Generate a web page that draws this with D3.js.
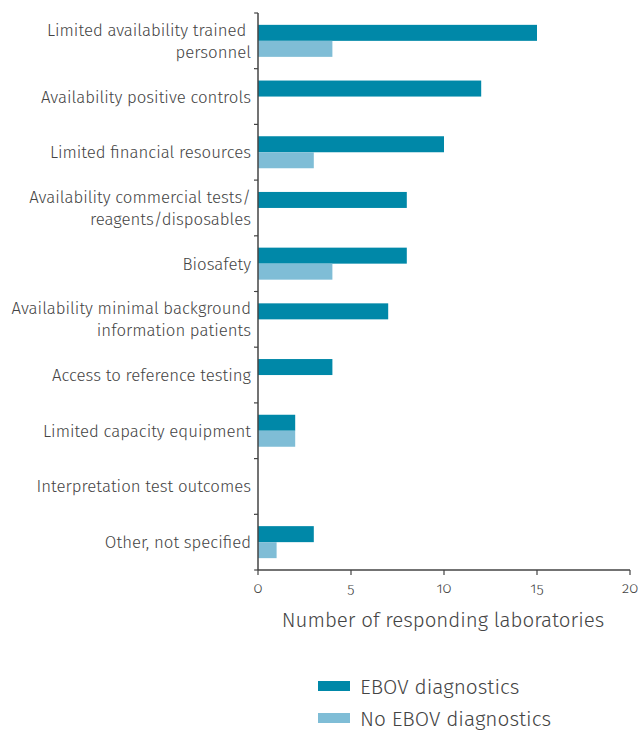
<!DOCTYPE html>
<html>
<head>
<meta charset="utf-8">
<script src="https://cdn.jsdelivr.net/npm/d3@7"></script>
<style>
  body { margin: 0; background: #fff; }
  text { font-family: "Fira Sans", "Noto Sans", sans-serif; font-weight: 300; fill: #444; white-space: pre; }
  .tick-label { font-variant-numeric: oldstyle-nums; }
</style>
</head>
<body>
<svg id="chart" width="643" height="733"></svg>
<script>
// categories, top to bottom (each may wrap to two lines)
var categories = [
  ['Limited availability trained ', 'personnel'],
  ['Availability positive controls'],
  ['Limited financial resources'],
  ['Availability commercial tests/', 'reagents/disposables'],
  ['Biosafety'],
  ['Availability minimal background', 'information patients'],
  ['Access to reference testing'],
  ['Limited capacity equipment'],
  ['Interpretation test outcomes'],
  ['Other, not specified']
];
var ebov   = [15, 12, 10, 8, 8, 7, 4, 2, 0, 3];
var noEbov = [4, 0, 3, 0, 4, 0, 0, 2, 0, 1];
var seriesNames = ['EBOV diagnostics', 'No EBOV diagnostics'];
var xTicks = [0, 5, 10, 15, 20];

var colors = ['#0088a8', '#7fbdd6'];

var svg = d3.select('#chart');

var x = d3.scaleLinear().domain([0, 20]).range([258, 630]);
var y = d3.scaleBand().domain(d3.range(categories.length)).range([13, 570]);
var sub = d3.scaleBand().domain([0, 1]).range([0, y.bandwidth()]).paddingOuter(0.74);

var rows = categories.map(function(c, i) {
  return { label: c, vals: [ebov[i], noEbov[i]] };
});

var g = svg.selectAll('g.row').data(rows).enter().append('g')
  .attr('class', 'row')
  .attr('transform', function(d, i) { return 'translate(0,' + y(i) + ')'; });

g.selectAll('rect').data(function(d) { return d.vals; }).enter().append('rect')
  .attr('x', x(0))
  .attr('y', function(d, j) { return sub(j); })
  .attr('width', function(d) { return x(d) - x(0); })
  .attr('height', sub.bandwidth())
  .attr('fill', function(d, j) { return colors[j]; });

// category labels
g.each(function(d) {
  var t = d3.select(this).append('text')
    .attr('text-anchor', 'end')
    .attr('font-size', '16.8px')
    .attr('x', 251);
  var n = d.label.length;
  d.label.forEach(function(line, k) {
    t.append('tspan')
      .attr('x', 251)
      .attr('y', y.bandwidth() / 2 + (k - (n - 1) / 2) * 22 + 6)
      .text(line);
  });
});

// y axis
var yAxis = svg.append('g').attr('transform', 'translate(' + x(0) + ',0)');
yAxis.append('line')
  .attr('x1', 0).attr('x2', 0).attr('y1', 13).attr('y2', 570)
  .attr('stroke', '#444').attr('stroke-width', 1.5);
yAxis.selectAll('line.tk').data(d3.range(categories.length + 1)).enter().append('line')
  .attr('class', 'tk')
  .attr('x1', -4).attr('x2', 0)
  .attr('y1', function(i) { return 13 + i * y.step(); })
  .attr('y2', function(i) { return 13 + i * y.step(); })
  .attr('stroke', '#444').attr('stroke-width', 1.2);

// x axis
var xAxis = svg.append('g').attr('transform', 'translate(0,570)');
xAxis.append('line')
  .attr('x1', x(0)).attr('x2', x(20))
  .attr('stroke', '#444').attr('stroke-width', 1.5);
xAxis.selectAll('line.tk').data(xTicks).enter().append('line')
  .attr('class', 'tk')
  .attr('x1', x).attr('x2', x).attr('y1', 0).attr('y2', 5)
  .attr('stroke', '#444').attr('stroke-width', 1.2);
xAxis.selectAll('text').data(xTicks).enter().append('text')
  .attr('class', 'tick-label')
  .attr('x', x).attr('y', 23)
  .attr('text-anchor', 'middle')
  .attr('font-size', '15px')
  .text(function(d) { return d; });

svg.append('text')
  .attr('x', (x(0) + x(20)) / 2 - 1).attr('y', 627)
  .attr('text-anchor', 'middle')
  .attr('font-size', '20.5px')
  .text('Number of responding laboratories');

// legend
var leg = svg.selectAll('g.leg').data(seriesNames).enter().append('g')
  .attr('class', 'leg')
  .attr('transform', function(d, i) { return 'translate(318,' + (681 + i * 32) + ')'; });
leg.append('rect')
  .attr('width', 32).attr('height', 10)
  .attr('fill', function(d, i) { return colors[i]; });
leg.append('text')
  .attr('x', 42).attr('y', 13)
  .attr('font-size', '20.8px')
  .text(function(d) { return d; });
</script>
</body>
</html>
